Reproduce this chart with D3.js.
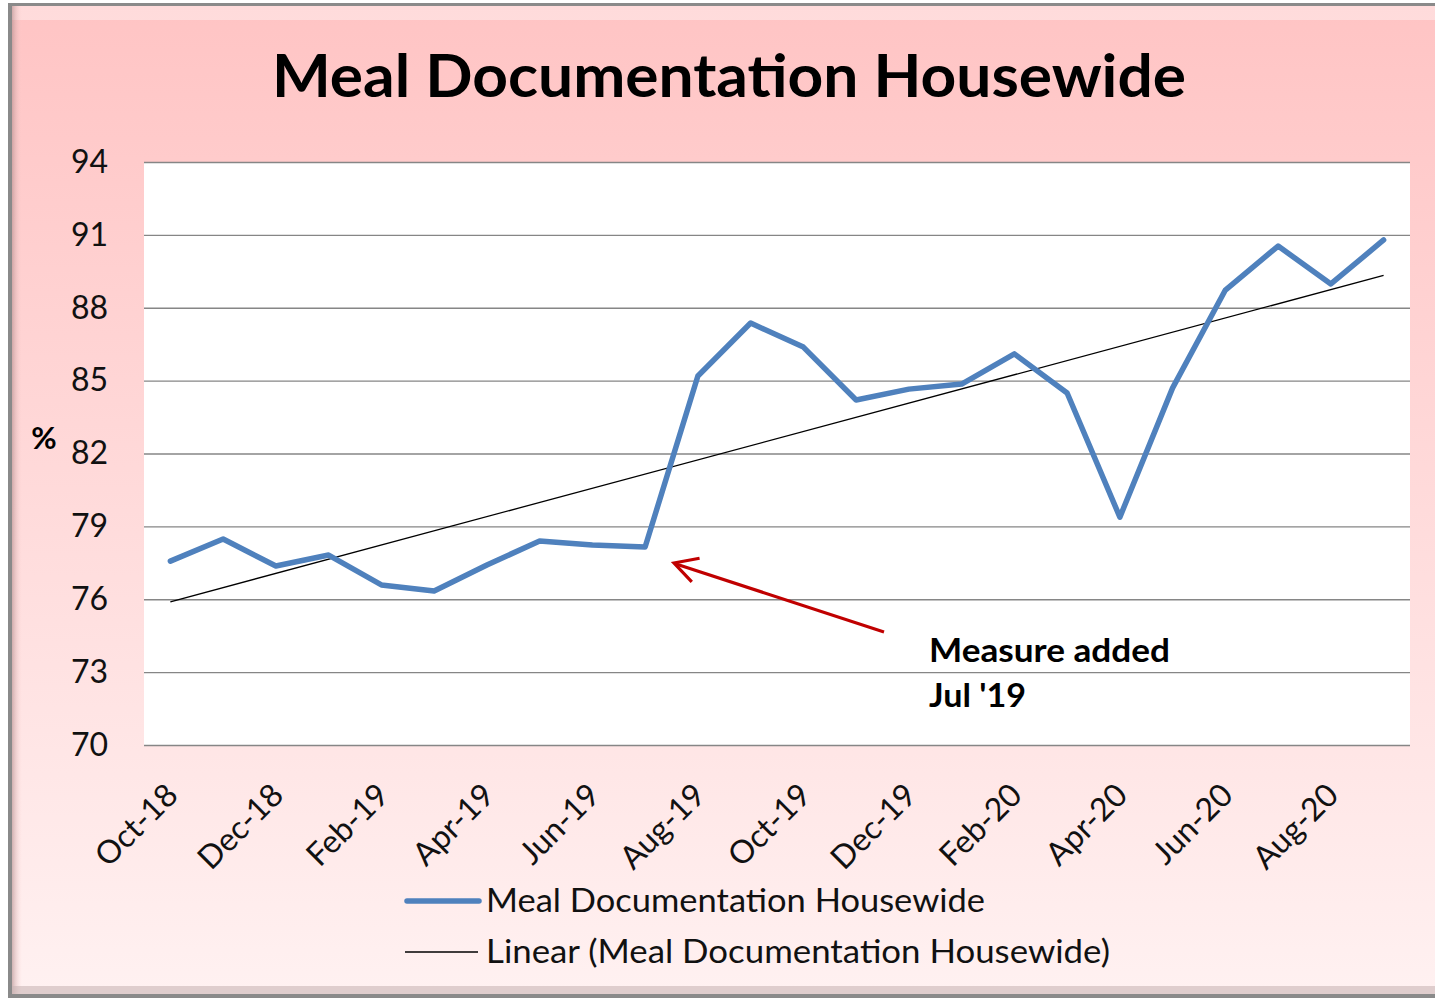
<!DOCTYPE html>
<html><head><meta charset="utf-8">
<script src="https://cdn.jsdelivr.net/npm/d3@7"></script>
<style>html,body{margin:0;padding:0;background:#fff;}svg{display:block;}</style>
</head><body>
<script>
const months = ["Oct-18","Nov-18","Dec-18","Jan-19","Feb-19","Mar-19","Apr-19","May-19","Jun-19","Jul-19","Aug-19","Sep-19","Oct-19","Nov-19","Dec-19","Jan-20","Feb-20","Mar-20","Apr-20","May-20","Jun-20","Jul-20","Aug-20","Sep-20"];
const values = [77.57,78.48,77.37,77.82,76.59,76.34,77.41,78.40,78.23,78.15,85.19,87.37,86.38,84.20,84.65,84.86,86.10,84.49,79.38,84.70,88.73,90.54,88.98,90.79];
const yTicks = [70,73,76,79,82,85,88,91,94];
const title = "Meal Documentation Housewide";
const seriesName = "Meal Documentation Housewide";
const trendName = "Linear (Meal Documentation Housewide)";
const annotation = ["Measure added","Jul '19"];

const W=1435,H=1000;
const font="Lato, 'Open Sans', sans-serif";
const svg=d3.select("body").append("svg").attr("width",W).attr("height",H);
const defs=svg.append("defs");
const g1=defs.append("linearGradient").attr("id","bg").attr("x1",0).attr("y1",0).attr("x2",0).attr("y2",1);
g1.append("stop").attr("offset","0%").attr("stop-color","#ffc4c4");
g1.append("stop").attr("offset","100%").attr("stop-color","#fff1f1");
const g2=defs.append("linearGradient").attr("id","lb").attr("x1",0).attr("y1",0).attr("x2",1).attr("y2",0);
g2.append("stop").attr("offset","0%").attr("stop-color","#b08a8a").attr("stop-opacity",0.6);
g2.append("stop").attr("offset","100%").attr("stop-color","#ffd0d0").attr("stop-opacity",0);

// frame
svg.append("rect").attr("x",8).attr("y",3).attr("width",W-8).attr("height",H-5).attr("fill","#8a8a8a");
svg.append("rect").attr("x",12).attr("y",6).attr("width",W-12).attr("height",H-12).attr("fill","url(#bg)");
svg.append("rect").attr("x",12).attr("y",6).attr("width",W-12).attr("height",14).attr("fill","#ffe6e6").attr("opacity",0.7);
svg.append("rect").attr("x",12).attr("y",6).attr("width",10).attr("height",H-12).attr("fill","url(#lb)");
svg.append("rect").attr("x",12).attr("y",H-14).attr("width",W-12).attr("height",8).attr("fill","#c9b5b5").attr("opacity",0.6);

const m={l:144,r:1410,t:162,b:745};
const x=d3.scalePoint().domain(months).range([m.l,m.r]).padding(0.5);
const y=d3.scaleLinear().domain([70,94]).range([m.b,m.t]);

svg.append("rect").attr("x",m.l).attr("y",m.t).attr("width",m.r-m.l).attr("height",m.b-m.t).attr("fill","#fff");

svg.append("text").attr("x",272).attr("y",97).attr("font-family",font)
  .attr("font-weight","bold").attr("font-size",60).attr("fill","#000")
  .attr("textLength",914).attr("lengthAdjust","spacingAndGlyphs").text(title);

// y axis grid + labels
const ya=svg.append("g").attr("transform",`translate(${m.l},0)`)
  .call(d3.axisLeft(y).tickValues(yTicks).tickSize(-(m.r-m.l)).tickPadding(36).tickFormat(d3.format("d")));
ya.select(".domain").remove();
ya.selectAll(".tick line").attr("stroke","#868686").attr("stroke-width",1.3);
ya.selectAll(".tick text").attr("font-family",font).attr("font-size",32).attr("fill","#111");

svg.append("text").attr("x",44).attr("y",449).attr("text-anchor","middle").attr("font-family",font)
  .attr("font-weight","bold").attr("font-size",31).text("%");

// x axis labels
const xa=svg.append("g").attr("transform",`translate(0,${m.b})`)
  .call(d3.axisBottom(x).tickValues(months.filter((d,i)=>i%2===0)).tickSize(0).tickPadding(0));
xa.select(".domain").remove();
xa.selectAll(".tick text").attr("font-family",font).attr("font-size",32).attr("fill","#111")
  .attr("text-anchor","end").attr("dy",0).attr("transform","translate(9,52) rotate(-45)");

// trend line (least squares)
const n=values.length, xs=d3.range(n);
const mx=d3.mean(xs), my=d3.mean(values);
const slope=d3.sum(xs,(i)=>(i-mx)*(values[i]-my))/d3.sum(xs,(i)=>(i-mx)*(i-mx));
const icpt=my-slope*mx;
svg.append("line").attr("x1",x(months[0])).attr("y1",y(icpt))
  .attr("x2",x(months[n-1])).attr("y2",y(icpt+slope*(n-1))).attr("stroke","#000").attr("stroke-width",1.3);

svg.append("path").datum(values).attr("fill","none").attr("stroke","#4f81bd").attr("stroke-width",5.5)
  .attr("stroke-linejoin","round").attr("stroke-linecap","round")
  .attr("d",d3.line().x((d,i)=>x(months[i])).y(d=>y(d)));

// annotation arrow
const tip=[674,563], tail=[884,632];
const ang=Math.atan2(tail[1]-tip[1],tail[0]-tip[0]);
const wl=26, wa=0.5;
svg.append("line").attr("x1",tail[0]).attr("y1",tail[1]).attr("x2",tip[0]+2).attr("y2",tip[1]+1)
  .attr("stroke","#c00000").attr("stroke-width",3.2);
svg.append("path").attr("d",`M${tip[0]+wl*Math.cos(ang-wa)},${tip[1]+wl*Math.sin(ang-wa)} L${tip[0]},${tip[1]} L${tip[0]+wl*Math.cos(ang+wa)},${tip[1]+wl*Math.sin(ang+wa)}`)
  .attr("fill","none").attr("stroke","#c00000").attr("stroke-width",3.2).attr("stroke-linejoin","miter");
svg.selectAll("text.ann").data(annotation).enter().append("text").attr("class","ann")
  .attr("x",929).attr("y",(d,i)=>662+i*45).attr("font-family",font).attr("font-weight","bold")
  .attr("font-size",33).attr("fill","#000")
  .attr("textLength",(d,i)=>i===0?241:97).attr("lengthAdjust","spacingAndGlyphs").text(d=>d);

// legend
svg.append("line").attr("x1",407).attr("y1",901).attr("x2",479).attr("y2",901).attr("stroke","#4f81bd")
  .attr("stroke-width",5.5).attr("stroke-linecap","round");
svg.append("text").attr("x",486).attr("y",912).attr("font-family",font).attr("font-size",32).attr("fill","#111")
  .attr("textLength",499).attr("lengthAdjust","spacingAndGlyphs").text(seriesName);
svg.append("line").attr("x1",405).attr("y1",952).attr("x2",478).attr("y2",952).attr("stroke","#000").attr("stroke-width",1.3);
svg.append("text").attr("x",486).attr("y",963).attr("font-family",font).attr("font-size",32).attr("fill","#111")
  .attr("textLength",624).attr("lengthAdjust","spacingAndGlyphs").text(trendName);
</script>
</body></html>
